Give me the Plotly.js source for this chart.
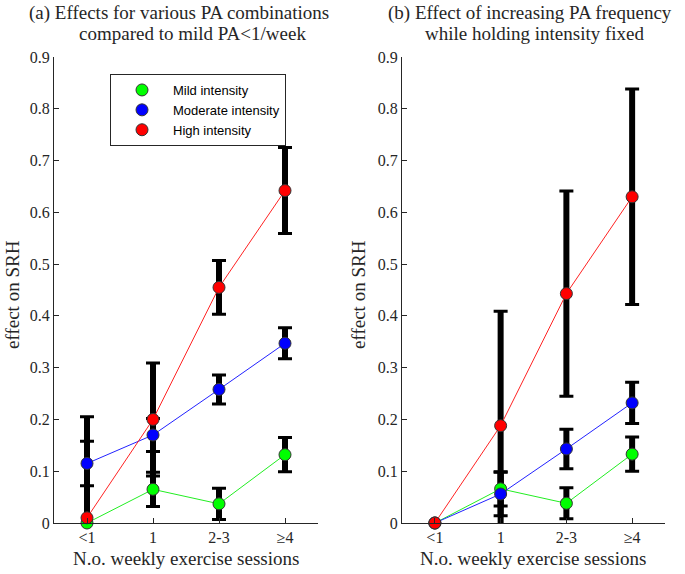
<!DOCTYPE html>
<html>
<head>
<meta charset="utf-8">
<script src="https://cdn.plot.ly/plotly-3.0.1.min.js"></script>
<style>html,body{margin:0;padding:0;background:#fff;}#chart{width:685px;height:574px;}</style>
</head>
<body>
<div id="chart"></div>
<script>
// ---- data ----
const xPos = [1, 2, 3, 4];
const tickLabels = ['&lt;1', '1', '2-3', '≥4'];
const seriesNames = ['Mild intensity', 'Moderate intensity', 'High intensity'];

// panel (a)
const mildA = [0, 0.065, 0.037, 0.132];
const mildErrA = [0, 0.033, 0.030, 0.033];
const moderateA = [0.115, 0.170, 0.258, 0.347];
const moderateErrA = [0.043, 0.032, 0.028, 0.030];
const highA = [0.010, 0.200, 0.455, 0.642];
const highErrA = [0.195, 0.109, 0.052, 0.083];

// panel (b)
const mildB = [0, 0.066, 0.038, 0.133];
const mildErrB = [0, 0.033, 0.030, 0.033];
const moderateB = [0, 0.056, 0.143, 0.232];
const moderateErrB = [0, 0.042, 0.038, 0.040];
const highB = [0, 0.188, 0.443, 0.630];
const highErrB = [0, 0.221, 0.198, 0.208];

const colors = ['#22ee22', '#2222ff', '#ff2222'];
const markerColors = ['#00ff00', '#0000ff', '#ff0000'];

const panels = [
  {xa: 'x', ya: 'y', vals: [mildA, moderateA, highA], errs: [mildErrA, moderateErrA, highErrA]},
  {xa: 'x2', ya: 'y2', vals: [mildB, moderateB, highB], errs: [mildErrB, moderateErrB, highErrB]}
];

const traces = [];
panels.forEach(p => {
  p.vals.forEach((v, i) => {
    const xs = [], ys = [], es = [];
    v.forEach((val, k) => { if (p.errs[i][k] > 0) { xs.push(xPos[k]); ys.push(val); es.push(p.errs[i][k]); } });
    traces.push({x: xs, y: ys, xaxis: p.xa, yaxis: p.ya, type: 'scatter', mode: 'markers',
      marker: {size: 1, opacity: 0}, showlegend: false, hoverinfo: 'skip',
      error_y: {type: 'data', array: es, visible: true, color: '#000', thickness: 6, width: 0}});
    traces.push({x: xs, y: ys, xaxis: p.xa, yaxis: p.ya, type: 'scatter', mode: 'markers',
      marker: {size: 1, opacity: 0}, showlegend: false, hoverinfo: 'skip',
      error_y: {type: 'data', array: es, visible: true, color: '#000', thickness: 3, width: 7}});
  });
});
panels.forEach(p => {
  p.vals.forEach((v, i) => {
    traces.push({x: xPos, y: v, xaxis: p.xa, yaxis: p.ya, type: 'scatter', mode: 'lines+markers',
      name: seriesNames[i], showlegend: false, cliponaxis: false,
      line: {color: colors[i], width: 1},
      marker: {size: 12, color: markerColors[i], line: {color: '#333', width: 1}}});
  });
});
// legend entries (markers only, as in the reference)
seriesNames.forEach((n, i) => {
  traces.push({x: [null], y: [null], xaxis: 'x', yaxis: 'y', type: 'scatter', mode: 'markers', name: n,
    marker: {size: 12, color: markerColors[i], line: {color: '#333', width: 1}}});
});

const serif = 'Liberation Serif';
const axCommon = {
  showline: true, linecolor: '#262626', linewidth: 1, ticks: 'inside', ticklen: 5, tickcolor: '#262626',
  showgrid: false, zeroline: false, mirror: false, tickfont: {family: serif, size: 16, color: '#262626'}
};
const yTicks = [0, 0.1, 0.2, 0.3, 0.4, 0.5, 0.6, 0.7, 0.8, 0.9];
const xAxis = Object.assign({}, axCommon, {range: [0.5, 4.5], tickvals: xPos, ticktext: tickLabels});
const yAxis = Object.assign({}, axCommon, {range: [0, 0.9], tickvals: yTicks, ticktext: yTicks.map(String)});

const yDom = [51 / 574, 517 / 574];
const titleFont = {family: serif, size: 19, color: '#262626'};
function ann(text, xpx, ypx, angle) {
  return {text: text, xref: 'paper', yref: 'paper', x: xpx / 685, y: 1 - ypx / 574, textangle: angle || 0,
    xanchor: 'center', yanchor: 'middle', showarrow: false, font: titleFont};
}
const layout = {
  width: 685, height: 574, margin: {l: 0, r: 0, t: 0, b: 0},
  paper_bgcolor: '#fff', plot_bgcolor: '#fff',
  xaxis: Object.assign({}, xAxis, {domain: [54 / 685, 318 / 685], anchor: 'y'}),
  yaxis: Object.assign({}, yAxis, {domain: yDom, anchor: 'x'}),
  xaxis2: Object.assign({}, xAxis, {domain: [402 / 685, 665 / 685], anchor: 'y2'}),
  yaxis2: Object.assign({}, yAxis, {domain: yDom, anchor: 'x2'}),
  showlegend: true,
  legend: {x: 110 / 685, y: 1 - 74 / 574, xanchor: 'left', yanchor: 'top', bgcolor: '#fff',
    bordercolor: '#262626', borderwidth: 1, font: {family: 'Liberation Sans', size: 13, color: '#000'},
    itemwidth: 52, tracegroupgap: 0},
  annotations: [
    ann('(a) Effects for various PA combinations', 179, 13),
    ann('compared to mild PA&lt;1/week', 192, 34),
    ann('(b) Effect of increasing PA frequency', 530, 13),
    ann('while holding intensity fixed', 535, 34),
    ann('N.o. weekly exercise sessions', 186, 558),
    ann('N.o. weekly exercise sessions', 533, 558),
    ann('effect on SRH', 12, 295, -90),
    ann('effect on SRH', 358, 295, -90)
  ]
};

Plotly.newPlot('chart', traces, layout, {displayModeBar: false, staticPlot: true});
</script>
</body>
</html>
